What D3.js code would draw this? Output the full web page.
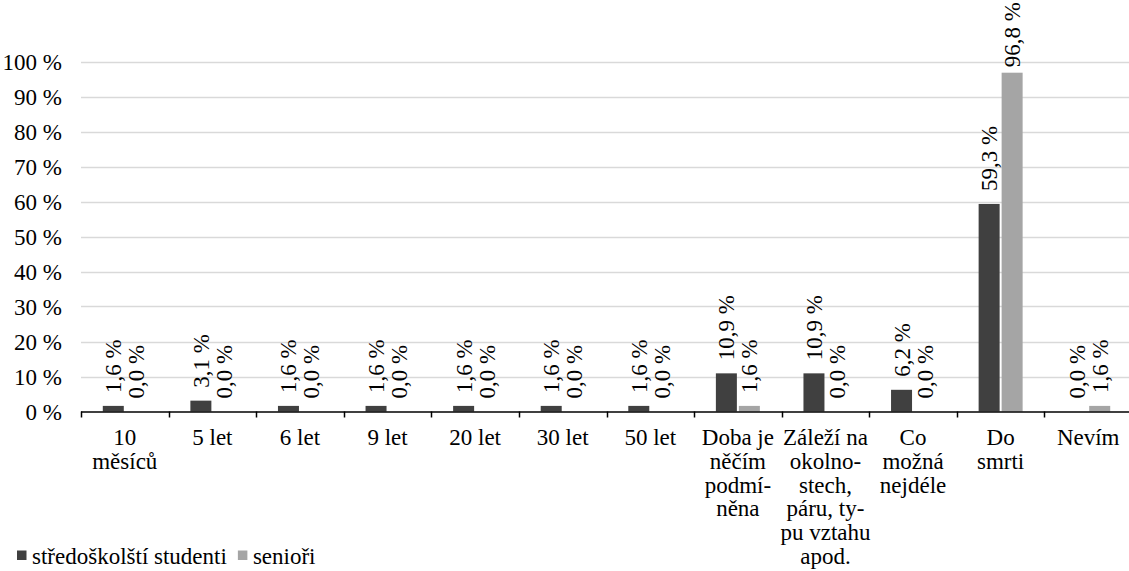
<!DOCTYPE html>
<html>
<head>
<meta charset="utf-8">
<script src="https://cdn.jsdelivr.net/npm/d3@7"></script>
</head>
<body style="margin:0">
<svg id="chart" width="1129" height="571"></svg>
<script>
// ---- data ----
const categories = [
  ["10", "měsíců"],
  ["5 let"],
  ["6 let"],
  ["9 let"],
  ["20 let"],
  ["30 let"],
  ["50 let"],
  ["Doba je", "něčím", "podmí-", "něna"],
  ["Záleží na", "okolno-", "stech,", "páru, ty-", "pu vztahu", "apod."],
  ["Co", "možná", "nejdéle"],
  ["Do", "smrti"],
  ["Nevím"]
];
const seriesNames = ["středoškolští studenti", "senioři"];
const students = [1.6, 3.1, 1.6, 1.6, 1.6, 1.6, 1.6, 10.9, 10.9, 6.2, 59.3, 0.0];
const seniors  = [0.0, 0.0, 0.0, 0.0, 0.0, 0.0, 0.0, 1.6, 0.0, 0.0, 96.8, 1.6];
const yTicks = [0, 10, 20, 30, 40, 50, 60, 70, 80, 90, 100];
const colors = ["#404040", "#a5a5a5"];

// ---- layout ----
const svg = d3.select("#chart");
const left = 81, right = 1132, y0 = 411.5, y100 = 61.5;
const fontSize = 23;
const f = "Liberation Serif";

function txt(sel) {
  return sel.attr("font-size", fontSize).style("font-family", `"${f}"`).attr("fill", "#000");
}

const x = d3.scaleBand().domain(d3.range(categories.length)).range([left, right]).padding(0);
const y = d3.scaleLinear().domain([0, 100]).range([y0, y100]);
const bw = x.bandwidth();
const barW = 21, gap = 2;
const x1 = d3.scaleOrdinal().domain([0, 1]).range([bw / 2 - gap / 2 - barW, bw / 2 + gap / 2]);

// gridlines
svg.append("g").selectAll("line").data(yTicks.filter(d => d > 0)).join("line")
  .attr("x1", left).attr("x2", 1129)
  .attr("y1", d => Math.round(y(d)) + 0.5).attr("y2", d => Math.round(y(d)) + 0.5)
  .attr("stroke", "#d9d9d9").attr("stroke-width", 1.3);

// bars
const series = [students, seniors];
series.forEach((vals, si) => {
  svg.append("g").selectAll("rect").data(vals).join("rect")
    .attr("x", (d, i) => x(i) + x1(si))
    .attr("width", barW)
    .attr("y", d => y(d))
    .attr("height", d => y0 - y(d))
    .attr("fill", colors[si]);
});

// x axis line and ticks
const axisG = svg.append("g");
axisG.append("line").attr("x1", left).attr("x2", 1129).attr("y1", y0 + 0.5).attr("y2", y0 + 0.5)
  .attr("stroke", "#000").attr("stroke-width", 1.5);
axisG.selectAll("line.tick").data(d3.range(categories.length + 1)).join("line")
  .attr("class", "tick")
  .attr("x1", i => Math.round(left + i * bw) + 0.5).attr("x2", i => Math.round(left + i * bw) + 0.5)
  .attr("y1", y0).attr("y2", y0 + 6)
  .attr("stroke", "#000").attr("stroke-width", 1.5);

// y tick labels
yTicks.forEach(d => {
  txt(svg.append("text")
    .attr("x", 62).attr("y", y(d) + 8))
    .attr("text-anchor", "end")
    .text(d + " %");
});

// category labels
categories.forEach((lines, i) => {
  lines.forEach((ln, li) => {
    txt(svg.append("text")
      .attr("x", x(i) + bw / 2)
      .attr("y", 445 + li * 23.8))
      .attr("text-anchor", "middle")
      .text(ln);
  });
});

// data labels (rotated)
const fmt = v => v.toFixed(1).replace(".", ",") + " %";
const cw = ch => (ch === "%" ? 0.833 : (ch === "," || ch === " ") ? 0.25 : 0.5);
const estLen = s => s.split("").reduce((a, ch) => a + cw(ch), 0) * fontSize;
series.forEach((vals, si) => {
  vals.forEach((v, i) => {
    const cx = x(i) + x1(si) + barW / 2 + 8;
    const s = fmt(v);
    const len = estLen(s);
    let base = y(v) - 13;
    if (base - len < 2) base = 2 + len;
    txt(svg.append("text")
      .attr("transform", `translate(${cx},${base}) rotate(-90)`))
      .text(s);
  });
});

// legend
let lx = 17;
seriesNames.forEach((name, si) => {
  svg.append("rect").attr("x", lx).attr("y", 550.5).attr("width", 9.5).attr("height", 9.5).attr("fill", colors[si]);
  const t = txt(svg.append("text").attr("x", lx + 15).attr("y", 564)).text(name);
  lx = lx + 15 + t.node().getComputedTextLength() + 11;
});
</script>
</body>
</html>
